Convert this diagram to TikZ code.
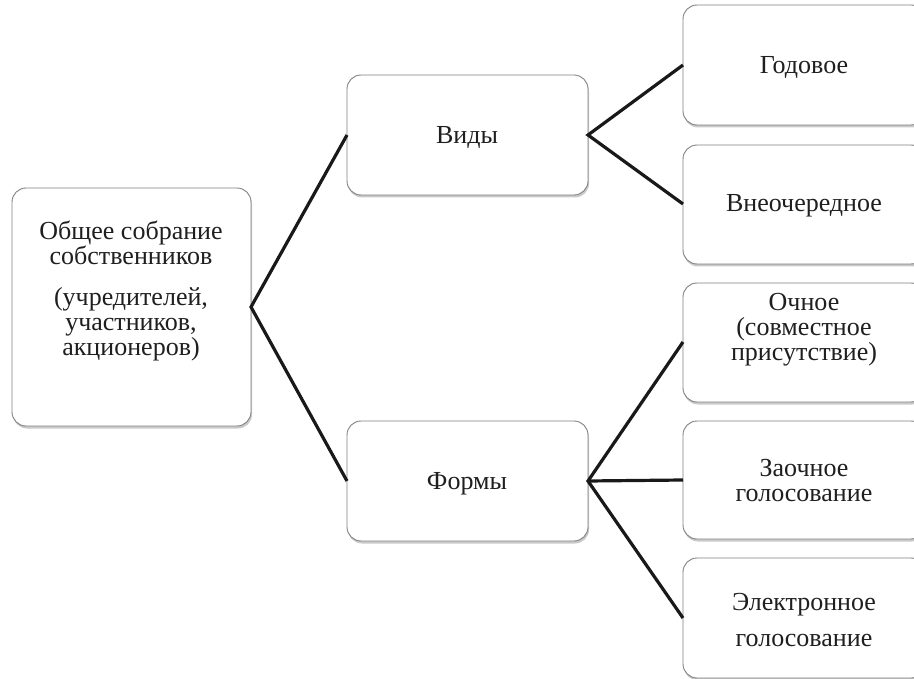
\documentclass[tikz,border=0pt]{standalone}
\usepackage{fontspec}
\setmainfont{Liberation Serif}
\usetikzlibrary{shadows}
\begin{document}
\begin{tikzpicture}[x=1pt,y=-1pt,
  box/.style={draw=black!50, line width=0.9pt, fill=white, rounded corners=14pt,
    drop shadow={shadow xshift=1pt, shadow yshift=-2.5pt, opacity=0.35, fill=black!60}},
  conn/.style={line width=3.2pt, black!90},
  lbl/.style={align=center, inner sep=0pt, font=\fontsize{26}{25}\selectfont, text=black!88}]
\useasboundingbox (0,0) rectangle (914,679);
\clip (0,0) rectangle (914,679);
% boxes
\draw[box] (12,188) rectangle (251,426);
\draw[box] (347,75) rectangle (588,195);
\draw[box] (347,421) rectangle (588,541);
\draw[box] (683,5) rectangle (925,125);
\draw[box] (683,145) rectangle (925,264);
\draw[box] (683,283) rectangle (925,402);
\draw[box] (683,421) rectangle (925,539);
\draw[box] (683,558) rectangle (925,678);
% anchor coordinates
\coordinate (rootR) at (251,307);
\coordinate (vidL) at (347,135);
\coordinate (vidR) at (588,135);
\coordinate (forL) at (347,481);
\coordinate (forR) at (588,481);
\coordinate (godL) at (683,65);
\coordinate (vneL) at (683,204);
\coordinate (ochL) at (683,342);
\coordinate (zaoL) at (683,480);
\coordinate (eleL) at (683,618);
% labels
\node[lbl] (root) at (131,243) {Общее собрание\\собственников};
\node[lbl] (root2) at (131,324) {(учредителей,\\участников,\\акционеров)};
\node[lbl] (vid) at (467,138) {Виды};
\node[lbl] (for) at (467,484) {Формы};
\node[lbl] (god) at (804,68) {Годовое};
\node[lbl] (vne) at (804,206) {Внеочередное};
\node[lbl] (och) at (804,330) {Очное\\(совместное\\присутствие)};
\node[lbl] (zao) at (804,481) {Заочное\\голосование};
\node[lbl, font=\fontsize{26}{36}\selectfont] (ele) at (804,620) {Электронное\\голосование};
% connectors
\draw[conn] (vidL) -- (rootR) -- (forL);
\draw[conn] (godL) -- (vidR) -- (vneL);
\draw[conn] (ochL) -- (forR) -- (eleL);
\draw[conn] (forR) -- (zaoL);
\end{tikzpicture}
\end{document}
